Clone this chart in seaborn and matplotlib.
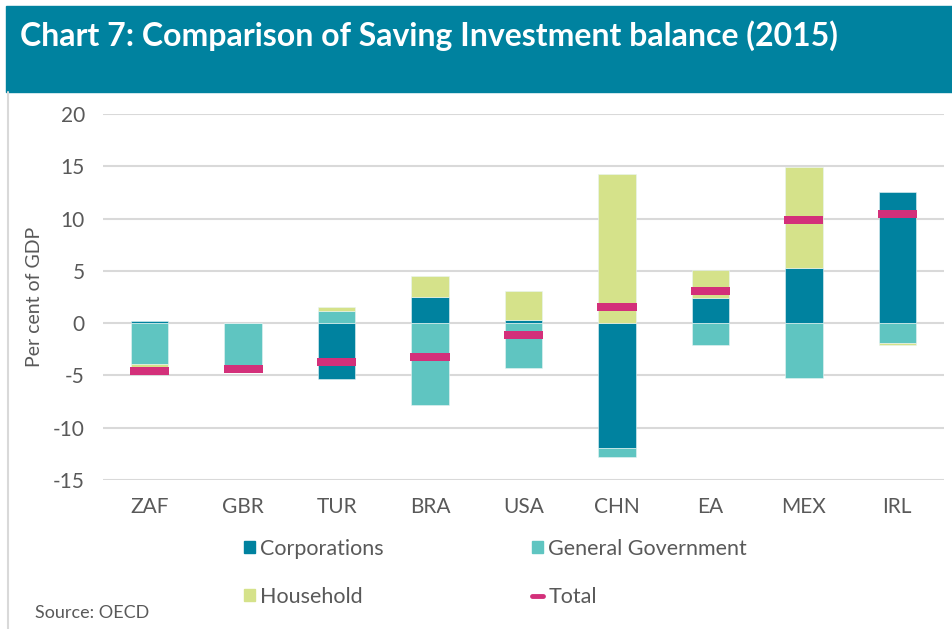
import matplotlib
matplotlib.use("Agg")
import matplotlib.pyplot as plt
from matplotlib.patches import Rectangle, Patch
from matplotlib.lines import Line2D
import seaborn as sns
import numpy as np
import pandas as pd

countries = ["ZAF", "GBR", "TUR", "BRA", "USA", "CHN", "EA", "MEX", "IRL"]
corporations = [0.2, 0.05, -5.3, 2.5, 0.32, -11.9, 2.36, 5.32, 12.5]
general_government = [-3.9, -4.3, 1.2, -7.85, -4.3, -0.9, -2.1, -5.2, -1.9]
household = [-0.4, 0.0, 0.35, 2.05, 2.8, 14.3, 2.7, 9.6, -0.15]
total = [-4.6, -4.35, -3.7, -3.2, -1.1, 1.5, 3.05, 9.85, 10.4]

series_names = ["Corporations", "General Government", "Household"]
colors = {"Corporations": "#00829F", "General Government": "#5FC5C1",
          "Household": "#D5E28A", "Total": "#D3307A"}

sns.set_theme(style="white")
plt.rcParams["font.family"] = ["Lato", "DejaVu Sans"]

fig = plt.figure(figsize=(9.52, 6.29), dpi=100)
W, H = 952, 629

# header band
fig.patches.append(Rectangle((6 / W, 1 - 92 / H), 1 - 6 / W, 86 / H,
                             transform=fig.transFigure, color="#00829F", zorder=0))
fig.lines.append(Line2D([7.5 / W, 7.5 / W], [0, 1 - 92 / H], transform=fig.transFigure,
                        color="#D9D9D9", lw=1.5))
fig.text(20 / W, 1 - 36 / H, "Chart 7: Comparison of Saving Investment balance (2015)",
         color="white", fontsize=23, fontweight="bold", va="center", ha="left")

ax = fig.add_axes([103 / W, 1 - 480 / H, (944 - 103) / W, (480 - 114) / H])

data = {"Corporations": corporations, "General Government": general_government,
        "Household": household}
pos_base = np.zeros(len(countries))
neg_base = np.zeros(len(countries))
for name in series_names:
    vals = np.array(data[name], dtype=float)
    bottoms = np.where(vals >= 0, pos_base, neg_base)
    df = pd.DataFrame({"country": countries, "value": vals})
    sns.barplot(data=df, x="country", y="value", ax=ax, color=colors[name],
                width=0.4, bottom=bottoms, edgecolor="#E8F4F4", linewidth=0.4,
                saturation=1, zorder=3)
    pos_base = pos_base + np.where(vals >= 0, vals, 0)
    neg_base = neg_base + np.where(vals < 0, vals, 0)

# total markers as short thick dashes
mh = 0.76
tdf = pd.DataFrame({"country": countries, "value": [mh] * len(countries)})
sns.barplot(data=tdf, x="country", y="value", ax=ax, color=colors["Total"],
            width=0.42, bottom=np.array(total) - mh / 2, saturation=1,
            linewidth=0, zorder=4)

ax.set_ylim(-15, 20)
ax.set_xlim(-0.5, len(countries) - 0.5)
ax.set_yticks(np.arange(-15, 21, 5))
ax.set_yticklabels([str(v) for v in range(-15, 21, 5)])
ax.yaxis.grid(True, color="#D9D9D9", lw=1.5, zorder=0)
ax.set_axisbelow(True)
for s in ax.spines.values():
    s.set_visible(False)
ax.tick_params(axis="both", length=0, labelsize=15, colors="#595959")
ax.tick_params(axis="x", pad=12)
ax.tick_params(axis="y", pad=13)
ax.set_xlabel("")
ax.set_ylabel("Per cent of GDP", fontsize=14, color="#595959")
ax.yaxis.set_label_coords(-60 / (944 - 103), 0.5)

handles = [Patch(color=colors["Corporations"], label="Corporations"),
           Patch(color=colors["Household"], label="Household"),
           Patch(color=colors["General Government"], label="General Government"),
           Line2D([], [], color=colors["Total"], lw=3.5, label="Total")]
leg = fig.legend(handles=handles, ncol=2, loc="upper left",
                 bbox_to_anchor=(244 / W, 1 - 539 / H), frameon=False,
                 fontsize=15.5, handlelength=0.5, handleheight=0.5, handletextpad=0.25,
                 columnspacing=6.9, labelspacing=1.3, borderpad=0, borderaxespad=0)
for t in leg.get_texts():
    t.set_color("#595959")

fig.text(35 / W, 1 - 613 / H, "Source: OECD", fontsize=13, color="#595959",
         va="center", ha="left")

fig.savefig("out.png", dpi=100, facecolor="white")
